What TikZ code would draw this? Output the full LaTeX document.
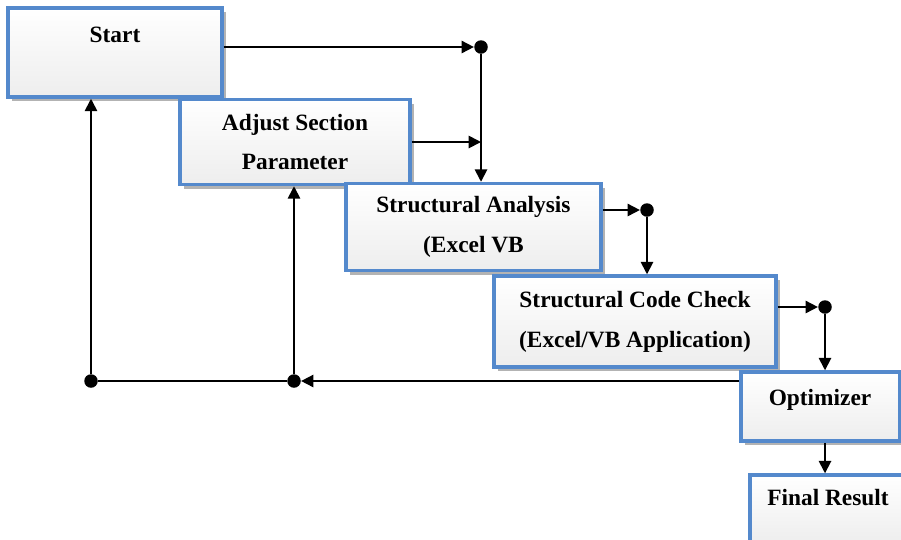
\documentclass[tikz,border=0pt]{standalone}
\usepackage{fontspec}
\setmainfont{Liberation Serif}
\usetikzlibrary{shadows}
\usetikzlibrary{arrows.meta}
\usetikzlibrary{calc,positioning}

\definecolor{boxblue}{RGB}{84,137,204}

\tikzset{
    box/.style={draw=boxblue, line width=2pt, rectangle,
        top color=white, bottom color=gray!14,
        drop shadow={shadow xshift=2.5pt, shadow yshift=-2.5pt, opacity=0.6},
        align=center, font=\fontsize{13.3}{22.7}\selectfont\bfseries},
    boxtext/.style={font=\fontsize{13.3}{15}\selectfont\bfseries},
    dot/.style={circle, fill=black, inner sep=0pt, minimum size=0.27cm},
    arr/.style={-{Triangle[length=7pt,width=7pt]}, line width=1pt},
    ln/.style={line width=1pt}
}

\begin{document}
\begin{tikzpicture}[x=0.02cm, y=-0.02cm]
    \useasboundingbox (0,0) rectangle (901,539);

    % boxes
    \node[box, minimum width=4.28cm, minimum height=1.78cm] (start) at (115,52.5) {};
    \node[boxtext] (starttxt) at (115,35) {Start};
    \node[box, minimum width=4.6cm, minimum height=1.7cm] (adjust) at (295,142) {Adjust Section\\Parameter};
    \node[box, minimum width=5.1cm, minimum height=1.74cm] (analysis) at (473.5,227) {Structural Analysis\\(Excel VB};
    \node[box, minimum width=5.64cm, minimum height=1.82cm] (check) at (635,321.5) {Structural Code Check\\(Excel/VB Application)};
    \node[box, minimum width=3.18cm, minimum height=1.38cm] (opt) at (820.5,406.5) {};
    \node[boxtext] (opttxt) at (820,400) {Optimizer};
    \node[box, minimum width=3.1cm, minimum height=1.4cm] (final) at (827.5,510) {};
    \node[boxtext] (finaltxt) at (828,498) {Final Result};

    % junctions
    \node[dot] (j1) at (481,47) {};
    \node[dot] (j2) at (647,210) {};
    \node[dot] (j3) at (825,307) {};
    \node[dot] (j4) at (294,381) {};
    \node[dot] (j5) at (91,381) {};

    % forward flow
    \draw[arr] (start.east |- j1) -- (j1);
    \draw[arr] (j1) -- (j1 |- analysis.north);
    \draw[arr] (adjust.east) -- (adjust.east -| j1);
    \draw[arr] (analysis.east |- j2) -- (j2);
    \draw[arr] (j2) -- (j2 |- check.north);
    \draw[arr] (check.east |- j3) -- (j3);
    \draw[arr] (j3) -- (j3 |- opt.north);
    \draw[arr] (j3 |- opt.south) -- (j3 |- final.north);

    % feedback
    \draw[arr] (opt.west |- j4) -- (j4);
    \draw[ln] (j4) -- (j5);
    \draw[arr] (j5) -- (j5 |- start.south);
    \draw[arr] (j4) -- (j4 |- adjust.south);

\end{tikzpicture}
\end{document}
